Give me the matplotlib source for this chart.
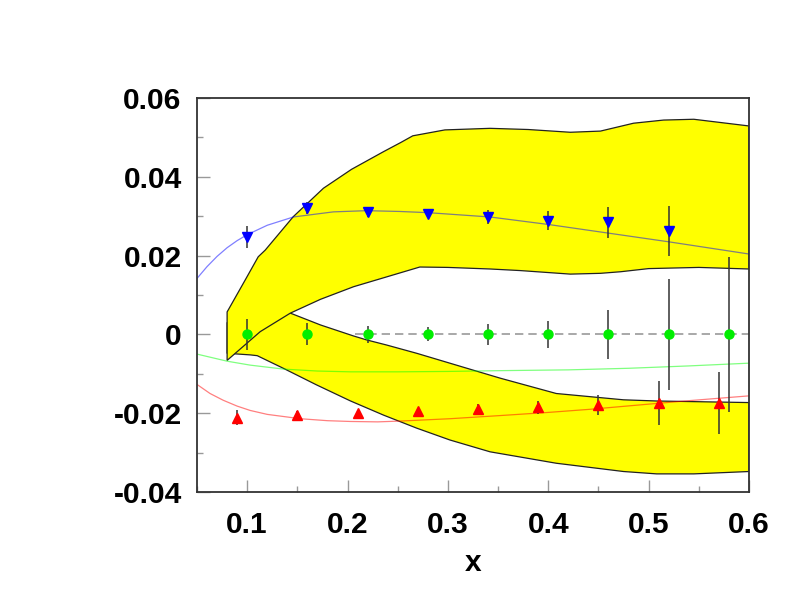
#!/usr/bin/env python3
"""Asymmetry points with fit curves and two yellow uncertainty bands."""

import matplotlib
matplotlib.use("Agg")
import matplotlib.pyplot as plt
from matplotlib.ticker import MultipleLocator

plt.rcParams["font.family"] = ["Liberation Sans", "DejaVu Sans"]

# data points
blue_x = [0.10, 0.16, 0.22, 0.28, 0.34, 0.40, 0.46, 0.52]
blue_y = [0.0247, 0.0320, 0.0310, 0.0306, 0.0297, 0.0289, 0.0284, 0.0263]
blue_err = [0.0028, 0.0015, 0.0013, 0.0010, 0.0018, 0.0023, 0.0039, 0.0063]

green_x = [0.10, 0.16, 0.22, 0.28, 0.34, 0.40, 0.46, 0.52, 0.58]
green_y = [0.0, 0.0, 0.0, 0.0, 0.0, 0.0, 0.0, 0.0, 0.0]
green_err = [0.0039, 0.0028, 0.0022, 0.0018, 0.0027, 0.0034, 0.0063, 0.0140, 0.0197]

red_x = [0.09, 0.15, 0.21, 0.27, 0.33, 0.39, 0.45, 0.51, 0.57]
red_y = [-0.0211, -0.0205, -0.0200, -0.0194, -0.0189, -0.0185, -0.0179, -0.0175, -0.0175]
red_err = [0.0019, 0.0010, 0.0008, 0.0008, 0.0012, 0.0017, 0.0025, 0.0056, 0.0079]

# fit curves
blue_curve_x = [0.050, 0.060, 0.070, 0.080, 0.090, 0.100, 0.120, 0.146, 0.186, 0.219,
                0.252, 0.280, 0.342, 0.400, 0.460, 0.520, 0.600]
blue_curve_y = [0.0142, 0.0172, 0.0198, 0.0220, 0.0238, 0.0253, 0.0277, 0.0298, 0.0311, 0.0314,
                0.0312, 0.0309, 0.0298, 0.0279, 0.0257, 0.0235, 0.0204]

green_curve_x = [0.050, 0.080, 0.103, 0.136, 0.170, 0.203, 0.250, 0.300, 0.352, 0.420,
                 0.480, 0.540, 0.600]
green_curve_y = [-0.0050, -0.0068, -0.0078, -0.0088, -0.0093, -0.0095, -0.0095, -0.0094, -0.0092,
                 -0.0090, -0.0086, -0.0080, -0.0073]

red_curve_x = [0.050, 0.063, 0.076, 0.090, 0.103, 0.120, 0.153, 0.180, 0.203, 0.230,
               0.252, 0.302, 0.352, 0.400, 0.442, 0.500, 0.541, 0.600]
red_curve_y = [-0.0127, -0.0150, -0.0167, -0.0182, -0.0193, -0.0203, -0.0214, -0.0219, -0.0221,
               -0.0222, -0.0220, -0.0214, -0.0206, -0.0198, -0.0190, -0.0177, -0.0168, -0.0156]

zero_line_x = [0.2077, 0.60]

# band 1 (rising)
band1_up_x = [0.080, 0.098, 0.111, 0.118, 0.146, 0.176, 0.204, 0.236, 0.253, 0.265,
              0.297, 0.342, 0.380, 0.422, 0.452, 0.485, 0.515, 0.545, 0.600]
band1_up_y = [0.0057, 0.0138, 0.0197, 0.0214, 0.0299, 0.0371, 0.0419, 0.0464, 0.0487, 0.0504,
              0.0519, 0.0523, 0.0520, 0.0513, 0.0516, 0.0536, 0.0544, 0.0546, 0.0529]
band1_lo_x = [0.080, 0.113, 0.143, 0.173, 0.206, 0.239, 0.272, 0.300, 0.342, 0.372,
              0.422, 0.452, 0.472, 0.500, 0.550, 0.600]
band1_lo_y = [-0.0066, 0.0007, 0.0054, 0.0089, 0.0121, 0.0146, 0.0171, 0.0170, 0.0166, 0.0162,
              0.0153, 0.0155, 0.0159, 0.0167, 0.0170, 0.0166]

# band 2 (falling)
band2_up_x = [0.080, 0.143, 0.173, 0.206, 0.219, 0.239, 0.269, 0.319, 0.352, 0.408,
              0.475, 0.508, 0.600]
band2_up_y = [0.0030, 0.0054, 0.0024, -0.0004, -0.0014, -0.0027, -0.0048, -0.0086, -0.0111,
              -0.0150, -0.0166, -0.0169, -0.0173]
band2_lo_x = [0.080, 0.103, 0.110, 0.136, 0.169, 0.203, 0.236, 0.269, 0.302, 0.342,
              0.408, 0.475, 0.508, 0.545, 0.600]
band2_lo_y = [-0.0048, -0.0052, -0.0054, -0.0086, -0.0128, -0.0169, -0.0205, -0.0238, -0.0268,
              -0.0298, -0.0327, -0.0348, -0.0354, -0.0354, -0.0348]

x_ticks = [0.1, 0.2, 0.3, 0.4, 0.5, 0.6]
x_tick_labels = ["0.1", "0.2", "0.3", "0.4", "0.5", "0.6"]
y_ticks = [-0.04, -0.02, 0.0, 0.02, 0.04, 0.06]
y_tick_labels = ["-0.04", "-0.02", "0", "0.02", "0.04", "0.06"]


def band_outline(up_x, up_y, lo_x, lo_y):
    xs = list(up_x) + list(reversed(lo_x))
    ys = list(up_y) + list(reversed(lo_y))
    return xs + [xs[0]], ys + [ys[0]]


fig = plt.figure(figsize=(7.88, 5.91), dpi=100)
ax = fig.add_axes([0.25, 0.1675, 0.7005, 0.6667])

for up_x, up_y, lo_x, lo_y in [
    (band2_up_x, band2_up_y, band2_lo_x, band2_lo_y),
    (band1_up_x, band1_up_y, band1_lo_x, band1_lo_y),
]:
    bx, by = band_outline(up_x, up_y, lo_x, lo_y)
    ax.fill(bx, by, facecolor="#ffff00", edgecolor="#222222", linewidth=0.9, zorder=1)

ax.plot(zero_line_x, [0, 0], color="#999999", linestyle=(0, (5, 3)), linewidth=1.2, zorder=2)
ax.plot(blue_curve_x, blue_curve_y, color="blue", alpha=0.5, linewidth=0.9, zorder=2)
ax.plot(green_curve_x, green_curve_y, color="#00ff00", alpha=0.5, linewidth=0.9, zorder=2)
ax.plot(red_curve_x, red_curve_y, color="red", alpha=0.5, linewidth=0.9, zorder=2)

err_kw = dict(ecolor="#333333", elinewidth=1.1, capsize=0, linestyle="none", zorder=3)
ax.errorbar(blue_x, blue_y, yerr=blue_err, fmt="v", color="blue", markersize=7, **err_kw)
ax.errorbar(green_x, green_y, yerr=green_err, fmt="o", color="#00ee00", markersize=6.5, **err_kw)
ax.errorbar(red_x, red_y, yerr=red_err, fmt="^", color="red", markersize=7, **err_kw)

ax.set_xlim(0.05, 0.6)
ax.set_ylim(-0.04, 0.06)
ax.set_xticks(x_ticks)
ax.set_xticklabels(x_tick_labels)
ax.set_yticks(y_ticks)
ax.set_yticklabels(y_tick_labels)
ax.xaxis.set_minor_locator(MultipleLocator(0.05))
ax.yaxis.set_minor_locator(MultipleLocator(0.01))
ax.tick_params(which="both", direction="in", color="#999999", width=1,
               top=False, right=False)
ax.tick_params(which="major", length=9)
ax.tick_params(which="minor", length=4.5)
ax.tick_params(axis="x", which="major", pad=14, labelsize=21.5)
ax.tick_params(axis="y", which="major", pad=11, labelsize=21.5)
for lab in ax.get_xticklabels() + ax.get_yticklabels():
    lab.set_fontweight("bold")

for sp in ax.spines.values():
    sp.set_color("#333333")
    sp.set_linewidth(1.3)

ax.set_xlabel("x", fontsize=21.5, fontweight="bold", labelpad=7)

fig.savefig("out.png", dpi=100)
plt.close(fig)
